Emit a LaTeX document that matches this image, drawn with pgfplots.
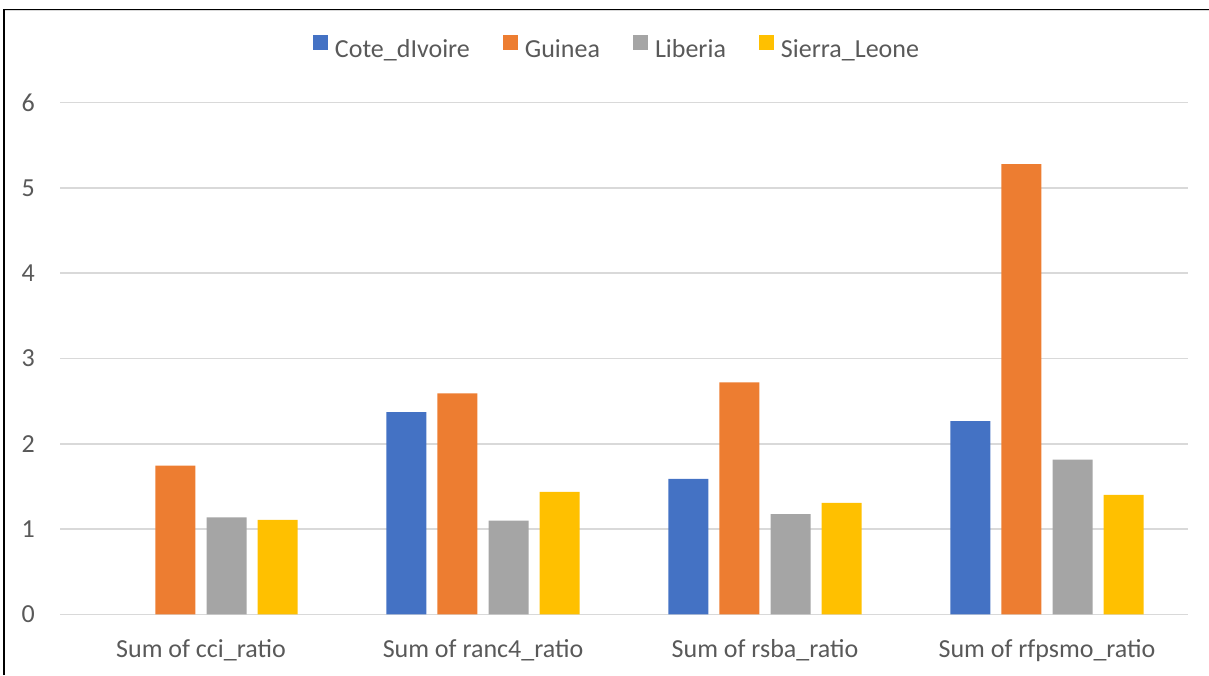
\documentclass[border=0pt]{standalone}
\usepackage{pgfplots}
\pgfplotsset{compat=1.18}
\usepackage{fontspec}
\setmainfont{Carlito}

\definecolor{cBlue}{HTML}{4472C4}
\definecolor{cOrange}{HTML}{ED7D31}
\definecolor{cGray}{HTML}{A5A5A5}
\definecolor{cGold}{HTML}{FFC000}
\definecolor{txt}{HTML}{595959}
\definecolor{gridc}{HTML}{D9D9D9}

\begin{document}
\begin{tikzpicture}
\useasboundingbox (0,0) rectangle (1209pt,675pt);
% frame seen at top and left of the screenshot
\draw[gridc,line width=1pt] (4pt,664.2pt) -- (1209pt,664.2pt);
\draw[black,line width=1.6pt] (4pt,665.4pt) -- (1209pt,665.4pt);
\draw[black,line width=2pt] (4pt,0pt) -- (4pt,666.2pt);

\begin{axis}[
    at={(60pt,60.7pt)}, anchor=south west,
    scale only axis, width=1128pt, height=511.6pt,
    xmin=-0.5, xmax=3.5, ymin=0, ymax=6,
    ybar, bar width=0.142,
    xtick={0,1,2,3},
    xticklabels={Sum of cci\_ratio, Sum of ranc4\_ratio, Sum of rsba\_ratio, Sum of rfpsmo\_ratio},
    ytick={0,1,...,6},
    xmajorgrids=false, ymajorgrids=true,
    y grid style={draw=gridc, line width=1.5pt},
    axis line style={draw=none}, tick style={draw=none},
    major tick length=0pt,
    /pgf/number format/assume math mode=true,
    ticklabel style={font=\fontsize{26}{30}\selectfont, text=txt, inner sep=0pt},
    yticklabel style={anchor=east, xshift=-25pt},
    xticklabel style={anchor=base, yshift=-43pt},
    legend columns=-1,
    legend style={at={(0.5,1)}, anchor=center, xshift=-8pt, yshift=56pt,
        draw=none, fill=none, font=\fontsize{26}{30}\selectfont, text=txt,
        nodes={inner sep=0pt},
        /tikz/every odd column/.append style={column sep=7pt},
        /tikz/every even column/.append style={column sep=33pt}},
    legend image code/.code={\fill[#1] (0pt,-0.5pt) rectangle (15pt,14.5pt);},
]
\addplot[fill=cBlue, draw=none, bar shift=-0.272] coordinates {(1,2.37) (2,1.588) (3,2.265)};
\addplot[fill=cOrange, draw=none, bar shift=-0.0906] coordinates {(0,1.744) (1,2.59) (2,2.72) (3,5.28)};
\addplot[fill=cGray, draw=none, bar shift=0.0906] coordinates {(0,1.138) (1,1.10) (2,1.174) (3,1.815)};
\addplot[fill=cGold, draw=none, bar shift=0.272] coordinates {(0,1.107) (1,1.435) (2,1.306) (3,1.40)};
\legend{Cote\_dIvoire, Guinea, Liberia, Sierra\_Leone}
\end{axis}
\end{tikzpicture}
\end{document}
